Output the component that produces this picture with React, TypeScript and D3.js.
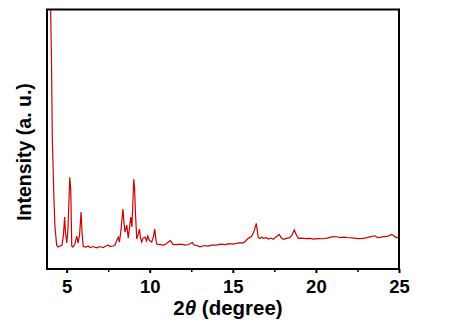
import React, { useEffect, useRef } from 'react'
import * as d3 from 'd3'

// 2theta (degree) and intensity (a.u.)
const twoTheta = [
  3.82, 4.04, 4.09, 4.14, 4.19, 4.24, 4.30, 4.40, 4.48, 4.60, 4.72, 4.81, 4.88, 4.93, 5.01,
  5.08, 5.19, 5.25, 5.31, 5.38, 5.50, 5.61, 5.69, 5.78, 5.87, 5.93, 6.00, 6.17, 6.29, 6.41,
  6.59, 6.81, 7.01, 7.19, 7.37, 7.49, 7.61, 7.79, 7.91, 8.03, 8.11, 8.18, 8.27, 8.39, 8.45,
  8.51, 8.62, 8.71, 8.78, 8.86, 8.93, 9.04, 9.09, 9.14, 9.22, 9.30, 9.38, 9.45, 9.52, 9.60,
  9.72, 9.81, 9.88, 9.99, 10.12, 10.23, 10.30, 10.36, 10.42, 10.62, 10.82, 10.98, 11.13, 11.24, 11.31,
  11.40, 11.64, 11.88, 12.12, 12.36, 12.56, 12.66, 12.84, 13.03, 13.27, 13.51, 13.75, 14.03, 14.29, 14.53,
  14.77, 15.01, 15.23, 15.43, 15.61, 15.73, 15.91, 16.03, 16.12, 16.23, 16.30, 16.41, 16.47, 16.53, 16.64,
  16.73, 16.84, 17.00, 17.15, 17.30, 17.43, 17.60, 17.80, 17.90, 18.04, 18.20, 18.44, 18.56, 18.70, 18.80,
  18.94, 19.16, 19.40, 19.64, 19.88, 20.12, 20.44, 20.67, 20.91, 21.09, 21.25, 21.45, 21.69, 21.87, 22.05,
  22.29, 22.53, 22.85, 23.07, 23.31, 23.55, 23.71, 23.86, 24.10, 24.34, 24.56, 24.70, 24.82, 24.96,
]
const intensity = [
  600, 260, 209, 130, 100, 69, 42, 24, 22, 23, 24, 34, 52, 37, 26,
  39, 92, 79, 23, 22, 25, 33, 26, 34, 57, 36, 22.5, 22, 23, 21.5,
  22.5, 21.3, 22.5, 21.5, 23, 24, 22.5, 23, 24, 29, 32, 27, 39, 60, 47,
  37, 44, 31, 41, 52, 42, 90, 81, 57, 30, 34, 40, 31, 27, 31,
  32, 28, 33, 28.5, 27, 33, 40, 31, 25, 24.5, 24, 25, 27, 28.5, 27,
  24.7, 24.5, 25, 24, 24.5, 26.7, 24, 23.5, 22.3, 23.5, 23, 24, 24, 25, 24.5,
  25.5, 25, 25.7, 26.5, 26, 27.3, 30.5, 31.7, 32.5, 35.7, 39, 45.7, 39, 31.7, 30.5,
  32, 30.7, 31.5, 30, 31, 29.7, 32, 34.7, 31.5, 29.7, 30.5, 31.7, 34, 39, 35,
  30.7, 31, 30.5, 30.7, 30, 30.5, 30.3, 31, 32, 32.5, 32.3, 31.5, 32, 31.5, 31.3,
  31, 30.5, 30.7, 31.5, 32.5, 33.3, 31.5, 31.7, 32.5, 33, 34.7, 33, 31.5, 31.7,
]
const majorTicks = [5, 10, 15, 20, 25]
const minorTicks = [7.5, 12.5, 17.5, 22.5]

const font = 'Liberation Sans, Arial, sans-serif'

export default function App() {
  const ref = useRef<SVGSVGElement>(null)

  useEffect(() => {
    const svg = d3.select(ref.current)
    svg.selectAll('*').remove()

    const left = 47, right = 399, top = 9.5, bottom = 269
    const x = d3.scaleLinear().domain([3.82, 25]).range([left, right])
    const y = d3.scaleLinear().domain([0, 260]).range([bottom, top])

    const data = twoTheta.map((t, i) => ({ t, v: intensity[i] }))

    svg.append('clipPath').attr('id', 'plotclip')
      .append('rect')
      .attr('x', left).attr('y', top)
      .attr('width', right - left).attr('height', bottom - top)

    const line = d3.line<{ t: number, v: number }>()
      .x(d => x(d.t))
      .y(d => y(d.v))

    svg.append('path')
      .datum(data)
      .attr('d', line)
      .attr('clip-path', 'url(#plotclip)')
      .style('fill', 'none')
      .style('stroke', '#d00000')
      .style('stroke-width', 1.2)

    // frame
    svg.append('rect')
      .attr('x', left).attr('y', top)
      .attr('width', right - left).attr('height', bottom - top)
      .style('fill', 'none')
      .style('stroke', '#000')
      .style('stroke-width', 2)

    // bottom axis
    const ax = svg.append('g')
      .attr('transform', `translate(0,${bottom})`)
      .call(d3.axisBottom(x).tickValues(majorTicks).tickSize(4).tickPadding(7).tickFormat(d3.format('d')))
    ax.select('.domain').remove()
    ax.selectAll('line').style('stroke', '#000').style('stroke-width', 2)
    ax.selectAll('text')
      .style('font-family', font)
      .style('font-size', '18.5px')
      .style('font-weight', 'bold')
      .style('fill', '#000')

    svg.append('g')
      .attr('transform', `translate(0,${bottom})`)
      .call(d3.axisBottom(x).tickValues(minorTicks).tickSize(3).tickFormat(() => ''))
      .call(g => g.select('.domain').remove())
      .selectAll('line').style('stroke', '#000').style('stroke-width', 1.5)

    const title = svg.append('text')
      .attr('x', 228).attr('y', 315)
      .attr('text-anchor', 'middle')
      .style('font-family', font)
      .style('font-size', '20.5px')
      .style('font-weight', 'bold')
    title.append('tspan').text('2')
    title.append('tspan').style('font-style', 'italic').text('θ')
    title.append('tspan').text(' (degree)')

    svg.append('text')
      .attr('transform', 'translate(31,152) rotate(-90)')
      .attr('text-anchor', 'middle')
      .style('font-family', font)
      .style('font-size', '19.5px')
      .style('font-weight', 'bold')
      .text('Intensity (a. u.)')
  }, [])

  return (
    <svg
      ref={ref}
      width={467}
      height={325}
      style={{ position: 'absolute', left: 0, top: 0, background: '#fff' }}
    />
  )
}
